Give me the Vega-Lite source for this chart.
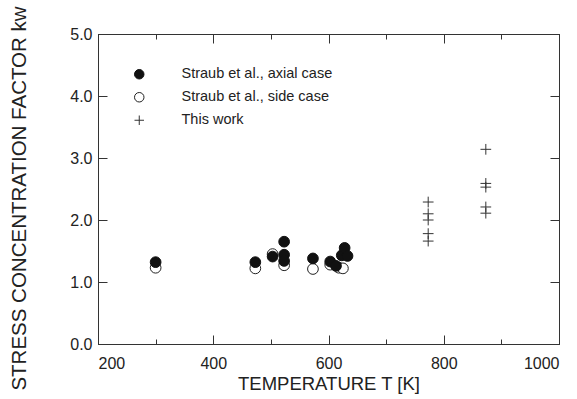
{
  "$schema": "https://vega.github.io/schema/vega-lite/v6.json",
  "width": 461,
  "height": 310,
  "autosize": {"type": "none"},
  "padding": {"left": 98, "top": 34, "right": 18, "bottom": 55},
  "background": "white",
  "config": {
    "view": {"stroke": "#333", "strokeWidth": 1},
    "font": "Liberation Sans",
    "axis": {
      "domainColor": "#333",
      "tickColor": "#333",
      "labelColor": "#222",
      "titleColor": "#222",
      "labelFont": "Liberation Sans",
      "titleFont": "Liberation Sans",
      "labelFontSize": 16,
      "titleFontSize": 18.5,
      "titleFontWeight": "normal",
      "grid": false
    },
    "legend": {
      "labelFont": "Liberation Sans",
      "labelFontSize": 14.5,
      "labelColor": "#222"
    }
  },
  "data": {
    "values": [
      {"series": "side", "T": 300, "k": 1.23},
      {"series": "side", "T": 473, "k": 1.22},
      {"series": "side", "T": 503, "k": 1.45},
      {"series": "side", "T": 523, "k": 1.27},
      {"series": "side", "T": 573, "k": 1.21},
      {"series": "side", "T": 603, "k": 1.28},
      {"series": "side", "T": 618, "k": 1.23},
      {"series": "side", "T": 625, "k": 1.22},
      {"series": "axial", "T": 300, "k": 1.32},
      {"series": "axial", "T": 473, "k": 1.32},
      {"series": "axial", "T": 503, "k": 1.41},
      {"series": "axial", "T": 523, "k": 1.65},
      {"series": "axial", "T": 523, "k": 1.44},
      {"series": "axial", "T": 523, "k": 1.34},
      {"series": "axial", "T": 573, "k": 1.38},
      {"series": "axial", "T": 603, "k": 1.33},
      {"series": "axial", "T": 613, "k": 1.26},
      {"series": "axial", "T": 623, "k": 1.43},
      {"series": "axial", "T": 628, "k": 1.55},
      {"series": "axial", "T": 633, "k": 1.42},
      {"series": "this", "T": 773, "k": 2.29},
      {"series": "this", "T": 773, "k": 2.10},
      {"series": "this", "T": 773, "k": 2.00},
      {"series": "this", "T": 773, "k": 1.78},
      {"series": "this", "T": 773, "k": 1.66},
      {"series": "this", "T": 873, "k": 3.14},
      {"series": "this", "T": 873, "k": 2.59},
      {"series": "this", "T": 873, "k": 2.53},
      {"series": "this", "T": 873, "k": 2.21},
      {"series": "this", "T": 873, "k": 2.11}
    ]
  },
  "layer": [
    {
      "mark": {"type": "point", "size": 115, "strokeWidth": 1, "opacity": 1},
      "encoding": {
        "x": {
          "field": "T", "type": "quantitative",
          "scale": {"domain": [200, 1000], "nice": false, "zero": false},
          "axis": {
            "values": [200, 300, 400, 500, 600, 700, 800, 900, 1000],
            "labelExpr": "datum.value % 200 == 0 ? datum.label : ''",
            "format": "d",
            "tickSize": {"condition": {"test": "datum.value % 200 == 0", "value": -9}, "value": -5},
            "labelPadding": 20,
            "title": "TEMPERATURE T  [K]",
            "titlePadding": 3
          }
        },
        "y": {
          "field": "k", "type": "quantitative",
          "scale": {"domain": [0, 5], "nice": false},
          "axis": {
            "values": [0, 1, 2, 3, 4, 5],
            "format": ".1f",
            "tickSize": -9,
            "labelPadding": 15,
            "title": "STRESS CONCENTRATION FACTOR   kw",
            "titleFontSize": 20.5,
            "titlePadding": 40,
            "titleY": 164
          }
        },
        "shape": {
          "field": "series", "type": "nominal",
          "scale": {"domain": ["axial", "side", "this"], "range": ["circle", "circle", "M-1,0H1M0,-1V1"]},
          "legend": {
            "orient": "none", "legendX": 34, "legendY": 33, "title": null,
            "labelExpr": "datum.value == 'axial' ? 'Straub et al., axial case' : datum.value == 'side' ? 'Straub et al., side case' : 'This work'",
            "symbolSize": 90, "rowPadding": 8, "labelOffset": 35, "symbolStrokeWidth": 1
          }
        },
        "fill": {
          "field": "series", "type": "nominal",
          "scale": {"domain": ["axial", "side", "this"], "range": ["#111", "#fff", "transparent"]},
          "legend": {
            "orient": "none", "legendX": 34, "legendY": 33, "title": null,
            "labelExpr": "datum.value == 'axial' ? 'Straub et al., axial case' : datum.value == 'side' ? 'Straub et al., side case' : 'This work'",
            "symbolSize": 90, "rowPadding": 8, "labelOffset": 35, "symbolStrokeWidth": 1
          }
        },
        "stroke": {
          "field": "series", "type": "nominal",
          "scale": {"domain": ["axial", "side", "this"], "range": ["#111", "#222", "#333"]},
          "legend": {
            "orient": "none", "legendX": 34, "legendY": 33, "title": null,
            "labelExpr": "datum.value == 'axial' ? 'Straub et al., axial case' : datum.value == 'side' ? 'Straub et al., side case' : 'This work'",
            "symbolSize": 90, "rowPadding": 8, "labelOffset": 35, "symbolStrokeWidth": 1
          }
        }
      }
    },
    {
      "mark": {"type": "point", "opacity": 0},
      "encoding": {
        "x": {
          "field": "T", "type": "quantitative",
          "axis": {
            "orient": "top",
            "values": [200, 300, 400, 500, 600, 700, 800, 900, 1000],
            "labels": false, "title": null,
            "tickSize": {"condition": {"test": "datum.value % 200 == 0", "value": -9}, "value": -5}
          }
        },
        "y": {
          "field": "k", "type": "quantitative",
          "axis": {"orient": "right", "values": [0, 1, 2, 3, 4, 5], "labels": false, "title": null, "tickSize": -9}
        }
      }
    }
  ],
  "resolve": {"axis": {"x": "independent", "y": "independent"}}
}
